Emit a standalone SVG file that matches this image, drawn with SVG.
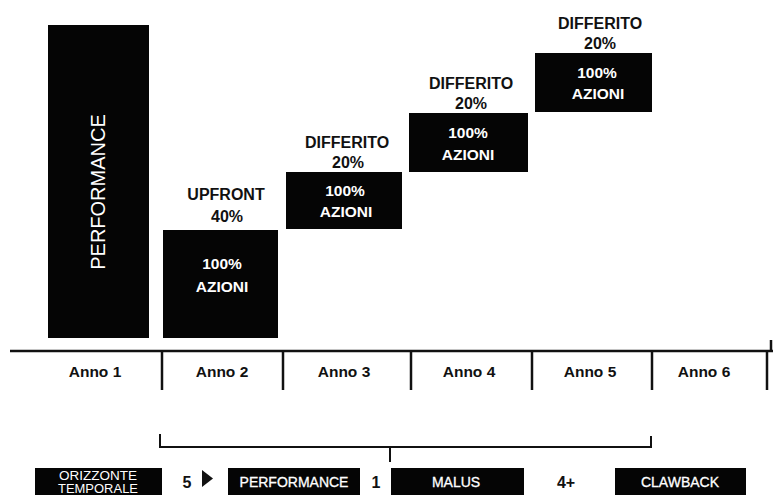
<svg xmlns="http://www.w3.org/2000/svg" width="776" height="495" viewBox="0 0 776 495">
<style>
.box{fill:#050505}
.lbl{font-family:"Liberation Sans",Arial,sans-serif;font-weight:bold;font-size:16px;fill:#111;text-anchor:middle}
.inner{font-family:"Liberation Sans",Arial,sans-serif;font-weight:bold;font-size:15.5px;fill:#fff;text-anchor:middle}
.anno{font-family:"Liberation Sans",Arial,sans-serif;font-weight:bold;font-size:15.5px;fill:#111;text-anchor:middle}
.btxt{font-family:"Liberation Sans",Arial,sans-serif;font-size:14px;fill:#fff;text-anchor:middle;stroke:#fff;stroke-width:0.3}
.small{font-family:"Liberation Sans",Arial,sans-serif;font-size:12.5px;fill:#fff;text-anchor:middle}
.num{font-family:"Liberation Sans",Arial,sans-serif;font-weight:bold;font-size:16px;fill:#111;text-anchor:middle}
.ln{stroke:#111;stroke-width:2.5;fill:none}
.br{stroke:#111;stroke-width:2;fill:none}
</style>
<rect width="776" height="495" fill="#fff"/>

<g id="performance-bar">
<rect class="box" x="48" y="25" width="101" height="313"/>
<text transform="translate(105,192) rotate(-90)" font-family="Liberation Sans, Arial, sans-serif" font-size="20" fill="#fff" text-anchor="middle">PERFORMANCE</text>
</g>

<g id="upfront">
<text class="lbl" x="226" y="200">UPFRONT</text>
<text class="lbl" x="227" y="222">40%</text>
<rect class="box" x="163" y="230" width="115" height="108"/>
<text class="inner" x="222" y="269">100%</text>
<text class="inner" x="222" y="292">AZIONI</text>
</g>

<g id="differito-1">
<text class="lbl" x="347" y="148">DIFFERITO</text>
<text class="lbl" x="348" y="168">20%</text>
<rect class="box" x="286" y="172" width="116" height="57"/>
<text class="inner" x="345" y="196">100%</text>
<text class="inner" x="346" y="217">AZIONI</text>
</g>

<g id="differito-2">
<text class="lbl" x="471" y="89">DIFFERITO</text>
<text class="lbl" x="471" y="109">20%</text>
<rect class="box" x="409" y="113" width="119" height="59"/>
<text class="inner" x="468" y="138">100%</text>
<text class="inner" x="468" y="160">AZIONI</text>
</g>

<g id="differito-3">
<text class="lbl" x="600" y="29">DIFFERITO</text>
<text class="lbl" x="600" y="49">20%</text>
<rect class="box" x="535" y="53" width="117" height="59"/>
<text class="inner" x="597" y="78">100%</text>
<text class="inner" x="598" y="99">AZIONI</text>
</g>

<g id="timeline">
<line class="ln" x1="10" y1="351" x2="773" y2="351"/>
<line class="ln" x1="771" y1="340" x2="771" y2="352"/>
<line class="ln" x1="162" y1="351" x2="162" y2="390"/>
<line class="ln" x1="283" y1="351" x2="283" y2="390"/>
<line class="ln" x1="411" y1="351" x2="411" y2="390"/>
<line class="ln" x1="532" y1="351" x2="532" y2="390"/>
<line class="ln" x1="652" y1="351" x2="652" y2="390"/>
<line class="ln" x1="767" y1="351" x2="767" y2="390"/>
<text class="anno" x="95" y="377">Anno 1</text>
<text class="anno" x="222" y="377">Anno 2</text>
<text class="anno" x="344" y="377">Anno 3</text>
<text class="anno" x="469" y="377">Anno 4</text>
<text class="anno" x="590" y="377">Anno 5</text>
<text class="anno" x="704" y="377">Anno 6</text>
</g>

<g id="connectors">
<path class="br" d="M160,434 V447 H651 V436"/>
<line class="br" x1="390" y1="447" x2="390" y2="462"/>
</g>

<g id="orizzonte">
<rect class="box" x="35" y="468" width="127" height="27"/>
<text class="small" x="98" y="480" textLength="78" lengthAdjust="spacingAndGlyphs">ORIZZONTE</text>
<text class="small" x="98" y="493" textLength="80" lengthAdjust="spacingAndGlyphs">TEMPORALE</text>
</g>
<g id="num-5">
<text class="num" x="187" y="488">5</text>
<polygon points="202,470 213,478.5 202,487" fill="#111"/>
</g>
<g id="perf-small">
<rect class="box" x="228" y="468" width="132" height="27"/>
<text class="btxt" x="294" y="487">PERFORMANCE</text>
</g>
<g id="num-1">
<text class="num" x="376" y="488">1</text>
</g>
<g id="malus">
<rect class="box" x="391" y="468" width="133" height="27"/>
<text class="btxt" x="456" y="487">MALUS</text>
</g>
<g id="num-4">
<text class="num" x="566" y="488">4+</text>
</g>
<g id="clawback">
<rect class="box" x="615" y="468" width="131" height="27"/>
<text class="btxt" x="680" y="487">CLAWBACK</text>
</g>
</svg>
